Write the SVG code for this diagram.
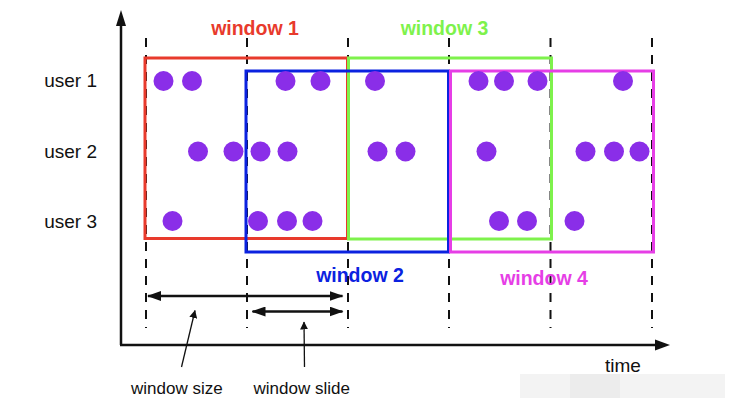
<svg xmlns="http://www.w3.org/2000/svg" width="739" height="410" viewBox="0 0 739 410">
<defs>
<style>
.dash{stroke:#111;stroke-width:2;stroke-dasharray:9,8;fill:none}
.ax{stroke:#111;stroke-width:2.5;fill:none}
.ln{stroke:#111;stroke-width:2.5;fill:none}
.ptr{stroke:#111;stroke-width:1.3;fill:none}
.win{fill:none;stroke-width:3}
.dot{fill:#8a2ee8}
.wl{font-family:"Liberation Sans",Arial,sans-serif;font-weight:bold;font-size:19.5px}
.lbl{font-family:"Liberation Sans",Arial,sans-serif;font-size:17px;fill:#111}
.usr{font-family:"Liberation Sans",Arial,sans-serif;font-size:19px;fill:#111}
</style>
<marker id="ah" viewBox="0 0 14 10" refX="13" refY="5" markerWidth="14" markerHeight="10" markerUnits="userSpaceOnUse" orient="auto-start-reverse">
<path d="M0,0 L14,5 L0,10 Z" fill="#111"/>
</marker>
<marker id="ahs" viewBox="0 0 8 8" refX="7.5" refY="4" markerWidth="8" markerHeight="8" markerUnits="userSpaceOnUse" orient="auto">
<path d="M0,0 L8,4 L0,8 Z" fill="#111"/>
</marker>
</defs>
<rect width="739" height="410" fill="#fff"/>
<g id="watermark">
<rect x="520" y="374" width="205" height="24" fill="#f3f3f3"/>
<rect x="570" y="374" width="50" height="24" fill="#ececec"/>
</g>
<g id="axes">
<line class="ax" x1="121" y1="345" x2="121" y2="24"/>
<path d="M121,10 L116,26 L126,26 Z" fill="#111"/>
<line class="ax" x1="120" y1="345" x2="656" y2="345"/>
<path d="M670,345 L655,339.5 L655,350.5 Z" fill="#111"/>
</g>
<g id="gridlines">
<line class="dash" x1="146" y1="38" x2="146" y2="328"/>
<line class="dash" x1="247" y1="38" x2="247" y2="328"/>
<line class="dash" x1="348" y1="38" x2="348" y2="328"/>
<line class="dash" x1="449" y1="38" x2="449" y2="328"/>
<line class="dash" x1="550.5" y1="38" x2="550.5" y2="328"/>
<line class="dash" x1="652" y1="38" x2="652" y2="328"/>
</g>
<g id="window1">
<rect class="win" x="145" y="58" width="202.5" height="180.5" stroke="#e83a2c"/>
<text class="wl" x="255" y="35" text-anchor="middle" fill="#e83a2c">window 1</text>
</g>
<g id="window3">
<rect class="win" x="348.5" y="58" width="203" height="181" stroke="#7ef24c"/>
<text class="wl" x="444.5" y="35" text-anchor="middle" fill="#7ef24c">window 3</text>
</g>
<g id="window2">
<rect class="win" x="246" y="71" width="202.5" height="181" stroke="#0b22e0"/>
<text class="wl" x="360" y="281.5" text-anchor="middle" fill="#0b22e0">window 2</text>
</g>
<g id="window4">
<rect class="win" x="450.5" y="71" width="203" height="181" stroke="#e63ee6"/>
<text class="wl" x="544" y="285" text-anchor="middle" fill="#e63ee6">window 4</text>
</g>
<g id="users">
<text class="usr" x="97" y="87" text-anchor="end">user 1</text>
<text class="usr" x="97" y="157.5" text-anchor="end">user 2</text>
<text class="usr" x="97" y="227.5" text-anchor="end">user 3</text>
</g>
<g id="events">
<circle class="dot" cx="163.5" cy="81" r="10"/>
<circle class="dot" cx="192" cy="81" r="10"/>
<circle class="dot" cx="285.5" cy="81" r="10"/>
<circle class="dot" cx="320.5" cy="81" r="10"/>
<circle class="dot" cx="375" cy="81" r="10"/>
<circle class="dot" cx="478.5" cy="81" r="10"/>
<circle class="dot" cx="504" cy="81" r="10"/>
<circle class="dot" cx="537.5" cy="81" r="10"/>
<circle class="dot" cx="623" cy="81" r="10"/>
<circle class="dot" cx="198" cy="151.5" r="10"/>
<circle class="dot" cx="233.5" cy="151.5" r="10"/>
<circle class="dot" cx="260.5" cy="151.5" r="10"/>
<circle class="dot" cx="287.5" cy="151.5" r="10"/>
<circle class="dot" cx="377.5" cy="151.5" r="10"/>
<circle class="dot" cx="405.5" cy="151.5" r="10"/>
<circle class="dot" cx="486.5" cy="151.5" r="10"/>
<circle class="dot" cx="585.5" cy="151.5" r="10"/>
<circle class="dot" cx="614" cy="151.5" r="10"/>
<circle class="dot" cx="639.5" cy="151.5" r="10"/>
<circle class="dot" cx="172.5" cy="221" r="10"/>
<circle class="dot" cx="258" cy="221" r="10"/>
<circle class="dot" cx="287" cy="221" r="10"/>
<circle class="dot" cx="312.5" cy="221" r="10"/>
<circle class="dot" cx="499" cy="221" r="10"/>
<circle class="dot" cx="527" cy="221" r="10"/>
<circle class="dot" cx="574.5" cy="221" r="10"/>
</g>
<g id="connectors">
<line class="ln" x1="148" y1="296" x2="342.5" y2="296" marker-start="url(#ah)" marker-end="url(#ah)"/>
<line class="ln" x1="252.5" y1="311.5" x2="342.5" y2="311.5" marker-start="url(#ah)" marker-end="url(#ah)"/>
<line class="ptr" x1="181.5" y1="367" x2="195" y2="310.5" marker-end="url(#ahs)"/>
<line class="ptr" x1="304.5" y1="367" x2="304" y2="322" marker-end="url(#ahs)"/>
</g>
<g id="labels">
<text class="lbl" x="131" y="393.5">window size</text>
<text class="lbl" x="253.5" y="393.5">window slide</text>
<text class="usr" x="605" y="372">time</text>
</g>
</svg>
